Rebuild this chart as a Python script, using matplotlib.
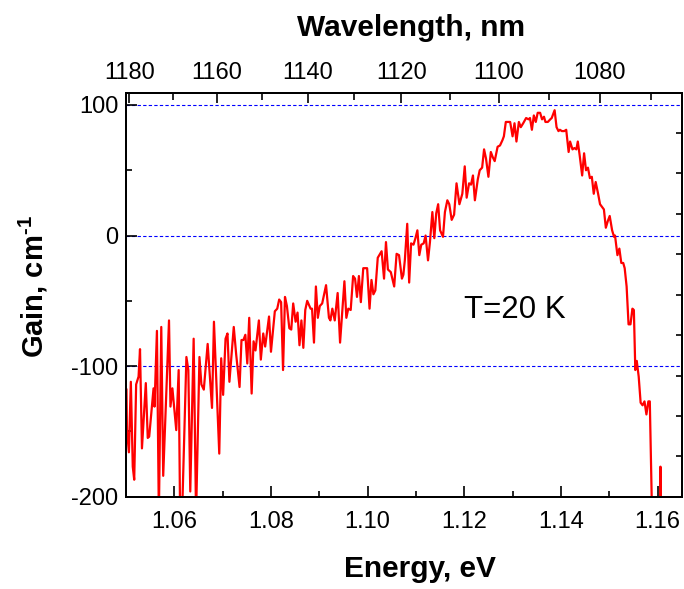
import numpy as np
import matplotlib
matplotlib.use("Agg")
import matplotlib.pyplot as plt

plt.rcParams['font.family'] = ['Liberation Sans', 'DejaVu Sans']
plt.rcParams['mathtext.fontset'] = 'custom'
plt.rcParams['mathtext.rm'] = 'Liberation Sans'
plt.rcParams['mathtext.bf'] = 'Liberation Sans:bold'

# ---------------- data ----------------
energy = [
    1.0501, 1.0502, 1.0506, 1.0510, 1.0514, 1.0517, 1.0521, 1.0526, 1.0529, 1.0533,
    1.0541, 1.0545, 1.0548, 1.0557, 1.0559, 1.0564, 1.0568, 1.0573, 1.0577, 1.0589,
    1.0592, 1.0596, 1.0604, 1.0609, 1.0612, 1.0616, 1.0625, 1.0629, 1.0633, 1.0640,
    1.0645, 1.0652, 1.0656, 1.0661, 1.0669, 1.0678, 1.0682, 1.0693, 1.0697, 1.0701,
    1.0706, 1.0710, 1.0714, 1.0723, 1.0728, 1.0735, 1.0739, 1.0743, 1.0747, 1.0751,
    1.0755, 1.0760, 1.0764, 1.0768, 1.0775, 1.0779, 1.0784, 1.0788, 1.0796, 1.0800,
    1.0808, 1.0813, 1.0817, 1.0821, 1.0825, 1.0829, 1.0833, 1.0838, 1.0842, 1.0846,
    1.0851, 1.0855, 1.0859, 1.0863, 1.0867, 1.0871, 1.0875, 1.0882,
    1.0885, 1.0889, 1.0893, 1.0897, 1.0901, 1.0906, 1.0914, 1.0920, 1.0923, 1.0927,
    1.0932, 1.0938, 1.0943, 1.0952, 1.0956, 1.0960, 1.0965, 1.0970, 1.0974, 1.0978,
    1.0982, 1.0986, 1.0991, 1.0999, 1.1004, 1.1008, 1.1012, 1.1016, 1.1021, 1.1029,
    1.1034, 1.1038, 1.1042, 1.1048, 1.1055, 1.1060, 1.1065, 1.1071, 1.1074, 1.1077,
    1.1082, 1.1086, 1.1090, 1.1095, 1.1099, 1.1103, 1.1107, 1.1111, 1.1116, 1.1120,
    1.1125, 1.1129, 1.1134, 1.1138, 1.1142, 1.1146, 1.1150, 1.1156, 1.1160, 1.1165,
    1.1169, 1.1174, 1.1179, 1.1184, 1.1190,
    1.1196, 1.1201, 1.1205, 1.1210, 1.1214, 1.1218, 1.1222, 1.1228, 1.1232, 1.1237,
    1.1241, 1.1245, 1.1250, 1.1255, 1.1259, 1.1263, 1.1269, 1.1274, 1.1279, 1.1282,
    1.1286, 1.1291, 1.1295, 1.1300, 1.1304, 1.1308, 1.1313, 1.1317, 1.1322, 1.1328,
    1.1333, 1.1336, 1.1340, 1.1344, 1.1348, 1.1352, 1.1357, 1.1361, 1.1365, 1.1368,
    1.1373, 1.1378, 1.1381, 1.1387, 1.1391, 1.1395, 1.1398, 1.1402, 1.1407, 1.1411,
    1.1416, 1.1419, 1.1424, 1.1428, 1.1432, 1.1435, 1.1439, 1.1444, 1.1448, 1.1452,
    1.1456, 1.1460, 1.1464, 1.1468, 1.1472, 1.1477, 1.1481, 1.1485, 1.1489, 1.1493,
    1.1497, 1.1501, 1.1506, 1.1510, 1.1512, 1.1517, 1.1521, 1.1525, 1.1529, 1.1532,
    1.1536, 1.1540, 1.1544, 1.1548, 1.1551, 1.1554, 1.1557, 1.1561, 1.1565, 1.1569,
    1.1573, 1.1577, 1.1581, 1.1584, 1.1590, 1.1605, 1.1606, 1.1608,
]
gain = [
    -118, -149, -166, -112, -177, -187, -114, -108, -87, -163,
    -113, -155, -154, -117, -131, -73, -215, -70, -184, -65,
    -131, -117, -149, -103, -215, -215, -93, -103, -196, -79,
    -215, -93, -114, -118, -83, -132, -66, -167, -94, -122,
    -79, -75, -112, -70, -91, -116, -80, -80, -76, -98,
    -63, -121, -81, -88, -65, -95, -75, -85, -62, -89,
    -58, -56, -49, -51, -103, -47, -54, -71, -72, -52,
    -66, -59, -84, -65, -86, -57, -50, -56,
    -56, -82, -39, -63, -54, -52, -38, -63, -65, -56,
    -65, -44, -82, -35, -63, -56, -57, -31, -33, -47,
    -31, -51, -25, -25, -56, -34, -45, -42, -17, -12,
    -33, -5, -26, -28, -39, -14, -15, -33, -30, -19,
    9, -36, -6, -7, -2, 4, -15, -7, -6, 0,
    -19, -5, 18, -2, 17, 24, 4, -1, 18, 27,
    24, 12, 16, 40, 24,
    32, 53, 29, 40, 39, 46, 27, 43, 50, 52,
    66, 59, 45, 64, 60, 57, 68, 69, 73, 76,
    87, 87, 87, 76, 86, 72, 87, 83, 86, 90,
    89, 90, 81, 92, 87, 94, 94, 89, 91, 87,
    87, 89, 90, 96, 83, 80, 81, 80, 80, 81,
    64, 72, 66, 67, 66, 72, 61, 46, 63, 50,
    52, 44, 45, 32, 41, 32, 24, 22, 20, 6,
    11, 15, 4, -1, 0, -15, -10, -21, -21, -25,
    -39, -68, -68, -56, -57, -103, -96, -108, -128, -130,
    -127, -137, -127, -127, -240, -240, -177, -240,
]

energy_major = [1.06, 1.08, 1.10, 1.12, 1.14, 1.16]
energy_minor = [1.05, 1.07, 1.09, 1.11, 1.13, 1.15]
gain_major = [-200, -100, 0, 100]
gain_minor = [-150, -50, 50]
wl_major = [1180, 1160, 1140, 1120, 1100, 1080]
wl_minor = [1170, 1150, 1130, 1110, 1090, 1070]
grid_levels = [100, 0, -100]
HC = 1239.84  # eV*nm

# ---------------- figure ----------------
W, H = 684, 589
fig = plt.figure(figsize=(W / 100, H / 100), dpi=100)
L, R, T, B = 126, 681.7, 92.7, 496.7
ax = fig.add_axes([L / W, 1 - B / H, (R - L) / W, (B - T) / H])

for g in grid_levels:
    ax.axhline(g, color='#0000ff', lw=0.8, ls=(0, (3, 2)), zorder=1)

ax.plot(energy, gain, color='#ff0000', lw=1.6, zorder=3)

ax.set_xlim(1.05, 1.165)
ax.set_ylim(-200, 109.4)

ax.set_xticks(energy_major)
ax.set_xticklabels([f"{v:.2f}" for v in energy_major])
ax.set_xticks(energy_minor, minor=True)
ax.set_yticks(gain_major)
ax.set_yticklabels([str(v) for v in gain_major])
ax.set_yticks(gain_minor, minor=True)

ax.tick_params(axis='both', which='both', direction='in', width=1.2, colors='black')
ax.tick_params(axis='both', which='major', length=8, labelsize=17)
ax.tick_params(axis='both', which='minor', length=4.5)
ax.tick_params(axis='x', which='major', pad=10)
ax.tick_params(axis='y', which='major', pad=5.5)
ax.tick_params(top=False, right=False)

for s in ax.spines.values():
    s.set_linewidth(1.3)

# top axis: wavelength
axt = ax.twiny()
axt.set_xlim(ax.get_xlim())
axt.set_xticks([HC / w for w in wl_major])
axt.set_xticklabels([str(w) for w in wl_major])
axt.set_xticks([HC / w for w in wl_minor], minor=True)
axt.tick_params(axis='x', which='both', direction='in', width=1.2)
axt.tick_params(axis='x', which='major', length=7, labelsize=17, pad=6.5)
axt.tick_params(axis='x', which='minor', length=5)
axt.tick_params(axis='y', left=False, right=False, labelleft=False, labelright=False)

# right axis: unlabeled ticks dividing into 10
axr = ax.twinx()
axr.set_ylim(0, 10)
axr.set_yticks(list(range(1, 10)))
axr.tick_params(axis='y', which='major', direction='in', length=4, width=1.2,
                labelright=False)
for a in (axt, axr):
    for s in a.spines.values():
        s.set_linewidth(1.3)

fig.text(420 / W, 1 - 577 / H, 'Energy, eV', ha='center', va='baseline',
         fontsize=21.5, fontweight='bold')
fig.text(411 / W, 1 - 36 / H, 'Wavelength, nm', ha='center', va='baseline',
         fontsize=21.5, fontweight='bold')
fig.text(33 / W, 1 - 286.5 / H, 'Gain, cm$^{\\mathbf{\u2010}\\mathbf{1}}$', rotation=90,
         ha='center', va='center', fontsize=21, fontweight='bold')
fig.text(464 / W, 1 - 318 / H, 'T=20 K', ha='left', va='baseline', fontsize=22.5)

fig.savefig('out.png', dpi=100)
